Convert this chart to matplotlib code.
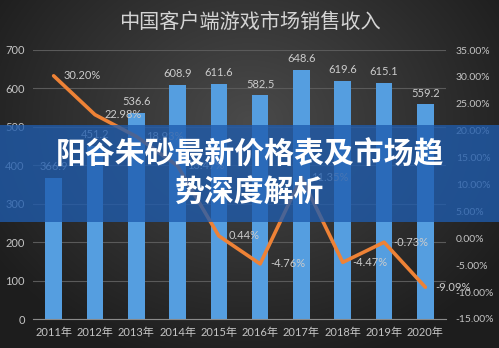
import numpy as np
import matplotlib.pyplot as plt
from matplotlib.patches import Rectangle

plt.rcParams['font.family'] = ['Lato', 'Noto Sans CJK SC', 'DejaVu Sans']

years = ['2011年', '2012年', '2013年', '2014年', '2015年',
         '2016年', '2017年', '2018年', '2019年', '2020年']
revenue = [366.9, 451.2, 536.6, 608.9, 611.6, 582.5, 648.6, 619.6, 615.1, 559.2]
growth = [30.20, 22.98, 18.93, 13.47, 0.44, -4.76, 11.35, -4.47, -0.73, -9.09]
left_ticks = list(range(0, 701, 100))
right_ticks = list(range(-15, 36, 5))

W, H = 499, 348
fig = plt.figure(figsize=(W / 100, H / 100), dpi=100)

# dark radial background
bg = fig.add_axes([0, 0, 1, 1])
yy, xx = np.mgrid[0:1:H * 1j, 0:1:W * 1j]
r = np.sqrt(((xx - 0.5) / 0.8) ** 2 + ((yy - 0.35) / 0.95) ** 2)
r = np.clip(r / 0.75, 0, 1)
inner = np.array([0x4a, 0x4a, 0x4a]) / 255
outer = np.array([0x1e, 0x1e, 0x1e]) / 255
img = inner[None, None, :] * (1 - r[..., None]) + outer[None, None, :] * r[..., None]
bg.imshow(img, extent=[0, 1, 0, 1], aspect='auto', origin='upper')
bg.axis('off')

ax = fig.add_axes([33 / W, 29 / H, 413 / W, 269 / H])
ax.patch.set_alpha(0)
x = np.arange(len(years))
ax.bar(x, revenue, width=0.4, color='#559ee0', zorder=2)
ax.set_xlim(-0.5, len(years) - 0.5)
ax.set_ylim(0, 700)
ax.set_yticks(left_ticks)
ax.set_xticks(x)
ax.set_xticklabels(years)
ax.grid(axis='y', color='#5a5a5a', lw=0.8, zorder=0)
for s in ['top', 'right', 'left']:
    ax.spines[s].set_visible(False)
ax.spines['bottom'].set_color('#8a8a8a')
ax.tick_params(axis='both', length=0, colors='#c4c4c4', labelsize=8)
ax.tick_params(axis='y', pad=6)
ax.tick_params(axis='x', pad=6)

for i, v in enumerate(revenue):
    ax.annotate(f'{v}', (i, v), xytext=(0, 4), textcoords='offset points',
                ha='center', va='bottom', fontsize=8, color='#cccccc')

ax2 = ax.twinx()
ax2.plot(x, growth, color='#ee8236', lw=2.6, zorder=3, solid_capstyle='round')
ax2.set_ylim(-15, 35)
ax2.set_yticks(right_ticks)
ax2.set_yticklabels([f'{t:.2f}%' for t in right_ticks])
for s in ax2.spines.values():
    s.set_visible(False)
ax2.tick_params(axis='y', length=0, colors='#c4c4c4', labelsize=7.5, pad=7)

for i, g in enumerate(growth):
    ax2.annotate(f'{g:.2f}%', (i, g), xytext=(7, 0), textcoords='offset points',
                 ha='left', va='center', fontsize=8, color='#cccccc')

fig.text(0.5, 1 - 22 / H, '中国客户端游戏市场销售收入', ha='center', va='center',
         fontsize=14.5, color='#d4d4d4', family=['Noto Sans CJK SC'])

# headline band across the chart
band = Rectangle((0, 1 - 222 / H), 1, 97 / H, transform=fig.transFigure,
                 facecolor='#1f5cae', alpha=0.78, edgecolor='none', zorder=5)
fig.add_artist(band)
fig.text(0.5, 1 - 155 / H, '阳谷朱砂最新价格表及市场趋', ha='center', va='center',
         fontsize=21.5, weight='heavy', color='white', zorder=6,
         family=['Noto Sans CJK SC'])
fig.text(0.5, 1 - 193 / H, '势深度解析', ha='center', va='center',
         fontsize=21.5, weight='heavy', color='white', zorder=6,
         family=['Noto Sans CJK SC'])

fig.savefig('out.png', dpi=100)
